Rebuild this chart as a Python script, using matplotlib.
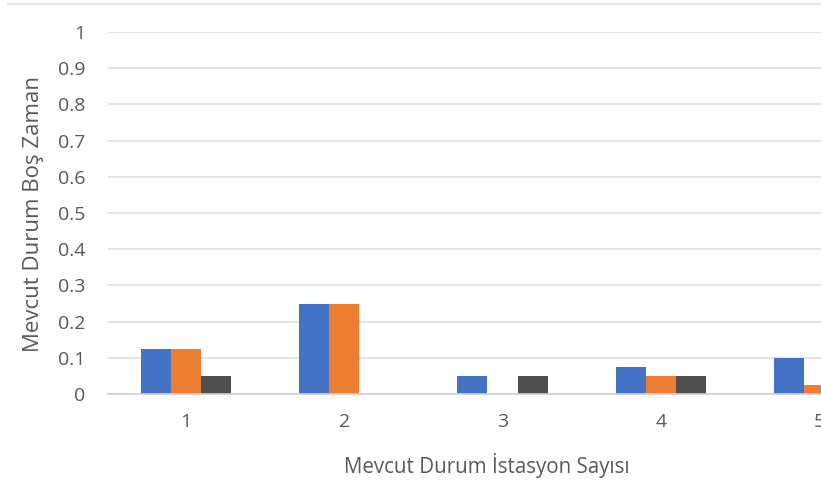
import numpy as np
import matplotlib
matplotlib.use("Agg")
import matplotlib.pyplot as plt
from matplotlib.lines import Line2D

plt.rcParams['font.family'] = ['Open Sans', 'DejaVu Sans']

# Data
categories = [1, 2, 3, 4, 5]
series_a = [0.125, 0.25, 0.05, 0.075, 0.10]
series_b = [0.125, 0.25, 0.0, 0.05, 0.025]
series_c = [0.05, 0.0, 0.05, 0.05, 0.0]
y_ticks = [0, 0.1, 0.2, 0.3, 0.4, 0.5, 0.6, 0.7, 0.8, 0.9, 1]
y_tick_labels = ["0", "0.1", "0.2", "0.3", "0.4", "0.5", "0.6", "0.7", "0.8", "0.9", "1"]

colors = ["#4472C4", "#ED7D31", "#4F4F4F"]
text_color = "#595959"

W, H = 821, 484
fig = plt.figure(figsize=(W / 100, H / 100), dpi=100)
ax = fig.add_axes([108 / W, 1 - 394 / H, (821 - 108) / W, (394 - 32) / H])

x = np.arange(len(categories)) + 1
bw = 0.19
for i, (vals, c) in enumerate(zip([series_a, series_b, series_c], colors)):
    ax.bar(x + (i - 1) * bw, vals, width=bw, color=c, zorder=3, linewidth=0)

ax.set_xlim(0.507, 5.013)
ax.set_ylim(0, 1)
ax.set_yticks(y_ticks)
ax.set_yticklabels(y_tick_labels)
ax.set_xticks(x)
ax.set_xticklabels([str(c) for c in categories])

ax.grid(axis='y', color="#E3E3E3", linewidth=1.3, zorder=0)
for s in ['top', 'right', 'left']:
    ax.spines[s].set_visible(False)
ax.spines['bottom'].set_color("#D0D0D0")
ax.spines['bottom'].set_linewidth(1.2)
ax.spines['bottom'].set_zorder(4)

ax.tick_params(axis='both', length=0, labelsize=14, colors=text_color)
ax.tick_params(axis='y', pad=16.5)
ax.tick_params(axis='x', pad=14)

fig.text(34 / W, 1 - 214 / H, "Mevcut Durum Boş Zaman", fontsize=16,
         color=text_color, ha='center', va='center', rotation=90)
fig.text(487 / W, 1 - 466 / H, "Mevcut Durum İstasyon Sayısı", fontsize=14.8,
         color=text_color, ha='center', va='center')

# chart area border along the top
fig.add_artist(Line2D([8 / W, 1], [1 - 4 / H, 1 - 4 / H], color="#E6E6E6",
                      linewidth=1.5, transform=fig.transFigure))

fig.savefig("out.png", dpi=100, facecolor="white")
